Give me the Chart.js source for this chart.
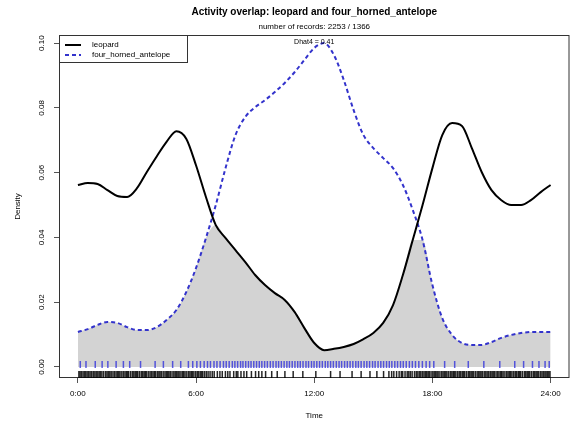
<!DOCTYPE html>
<html>
<head>
<meta charset="utf-8">
<script src="https://cdn.jsdelivr.net/npm/chart.js@4"></script>
<style>
  body { margin: 0; background: #fff; }
  canvas { display: block; }
</style>
</head>
<body>
<canvas id="overlapChart" width="575" height="428"></canvas>
<script>
// Time of day (hours) on a half-hour grid
const hours = [0, 0.5, 1, 1.5, 2, 2.5, 3, 3.5, 4, 4.5, 5, 5.5, 6, 6.5, 7, 7.5, 8, 8.5, 9, 9.5,
  10, 10.5, 11, 11.5, 12, 12.5, 13, 13.5, 14, 14.5, 15, 15.5, 16, 16.5, 17, 17.5, 18, 18.5, 19, 19.5,
  20, 20.5, 21, 21.5, 22, 22.5, 23, 23.5, 24];

// Kernel density estimates
const leopard = [0.0562, 0.0568, 0.0565, 0.0546, 0.0528, 0.0525, 0.0552, 0.0602, 0.0650, 0.0695,
  0.0728, 0.0705, 0.0622, 0.0525, 0.0438, 0.0398, 0.0361, 0.0324, 0.0284, 0.0253,
  0.0228, 0.0207, 0.0170, 0.0120, 0.0074, 0.0052, 0.0056, 0.0062, 0.0071, 0.0086,
  0.0105, 0.0136, 0.0191, 0.0284, 0.0392, 0.0500, 0.0614, 0.0716, 0.0753, 0.0744,
  0.0676, 0.0602, 0.0546, 0.0515, 0.0500, 0.0500, 0.0515, 0.0540, 0.0562];

const antelope = [0.0108, 0.0117, 0.0130, 0.0139, 0.0136, 0.0123, 0.0114, 0.0114, 0.0123, 0.0145,
  0.0176, 0.0231, 0.0306, 0.0398, 0.0500, 0.0615, 0.0716, 0.0772, 0.0802, 0.0824,
  0.0849, 0.0877, 0.0910, 0.0948, 0.0985, 0.1000, 0.0963, 0.0886, 0.0793, 0.0716,
  0.0676, 0.0645, 0.0614, 0.0562, 0.0485, 0.0392, 0.0253, 0.0151, 0.0099, 0.0074,
  0.0068, 0.0068, 0.0077, 0.0090, 0.0099, 0.0105, 0.0108, 0.0108, 0.0108];

// Record times (rug marks)
const leopardRecords = [0.05, 0.11, 0.18, 0.26, 0.33, 0.40, 0.47, 0.55, 0.62, 0.70, 0.78, 0.86, 0.93,
  1.01, 1.08, 1.15, 1.22, 1.31, 1.41, 1.48, 1.55, 1.62, 1.69, 1.78, 1.86, 1.94, 2.02, 2.08,
  2.14, 2.23, 2.31, 2.39, 2.46, 2.52, 2.58, 2.68, 2.77, 2.84, 2.91, 2.98, 3.04, 3.13, 3.22,
  3.29, 3.36, 3.42, 3.48, 3.57, 3.66, 3.73, 3.81, 3.88, 3.94, 4.03, 4.11, 4.17, 4.24, 4.33,
  4.42, 4.49, 4.56, 4.62, 4.69, 4.78, 4.87, 4.94, 5.01, 5.08, 5.14, 5.23, 5.31, 5.37, 5.44,
  5.53, 5.62, 5.69, 5.76, 5.82, 5.89, 5.98, 6.06, 6.13, 6.21, 6.28, 6.34, 6.43, 6.52, 6.61,
  6.71, 6.82, 6.92, 7.08, 7.21, 7.33, 7.49, 7.61, 7.72, 7.91, 8.04, 8.12, 8.28, 8.43, 8.57,
  8.81, 9.02, 9.18, 9.34, 9.53, 9.84, 10.12, 10.51, 10.93, 11.42, 12.08, 12.83, 13.31, 13.92,
  14.38, 14.83, 15.18, 15.52, 15.79, 15.93, 16.04, 16.18, 16.31, 16.42, 16.49, 16.61, 16.72,
  16.80, 16.88, 16.97, 17.09, 17.18, 17.26, 17.34, 17.41, 17.49, 17.57, 17.64, 17.71, 17.78,
  17.84, 17.93, 18.02, 18.09, 18.16, 18.23, 18.29, 18.38, 18.47, 18.54, 18.61, 18.68, 18.74,
  18.83, 18.92, 18.99, 19.06, 19.12, 19.19, 19.28, 19.36, 19.43, 19.51, 19.57, 19.64, 19.73,
  19.82, 19.89, 19.96, 20.02, 20.09, 20.18, 20.27, 20.34, 20.41, 20.47, 20.54, 20.63, 20.71,
  20.78, 20.86, 20.94, 21.02, 21.08, 21.14, 21.23, 21.31, 21.38, 21.46, 21.52, 21.59, 21.68,
  21.77, 21.84, 21.91, 21.97, 22.04, 22.13, 22.21, 22.28, 22.36, 22.42, 22.48, 22.57, 22.67,
  22.74, 22.81, 22.87, 22.94, 23.03, 23.12, 23.19, 23.26, 23.32, 23.39, 23.48, 23.56, 23.63,
  23.71, 23.77, 23.84, 23.91, 23.97];

const antelopeRecords = [0.12, 0.41, 0.88, 1.23, 1.52, 1.94, 2.31, 2.63, 3.18, 3.92, 4.34, 4.81, 5.22,
  5.61, 5.83, 6.04, 6.22, 6.41, 6.58, 6.73, 6.91, 7.06, 7.22, 7.39, 7.53, 7.68, 7.84, 7.97, 8.11,
  8.26, 8.38, 8.52, 8.66, 8.79, 8.93, 9.07, 9.21, 9.34, 9.48, 9.62, 9.77, 9.91, 10.06, 10.19,
  10.33, 10.47, 10.61, 10.74, 10.88, 11.02, 11.16, 11.29, 11.43, 11.58, 11.71, 11.86, 11.99,
  12.13, 12.27, 12.41, 12.56, 12.69, 12.83, 12.97, 13.12, 13.26, 13.39, 13.54, 13.68, 13.82,
  13.96, 14.11, 14.24, 14.38, 14.53, 14.67, 14.81, 14.96, 15.09, 15.24, 15.38, 15.52, 15.67,
  15.81, 15.94, 16.09, 16.23, 16.38, 16.52, 16.67, 16.83, 16.98, 17.14, 17.31, 17.49, 17.68,
  17.86, 18.07, 18.62, 19.13, 19.82, 20.61, 21.42, 22.18, 22.63, 23.08, 23.41, 23.72, 23.93];

const xTicks = [0, 6, 12, 18, 24];
const yTicks = [0, 0.02, 0.04, 0.06, 0.08, 0.10];
const speciesA = "leopard";
const speciesB = "four_horned_antelope";
const nRecords = [2253, 1366];
const dhatLabel = "Dhat4 = 0.41";

const FONT = "'Liberation Sans', Arial, sans-serif";
const BLUE = "#3333cc";

const toPoints = (ys) => hours.map((h, i) => ({ x: h, y: ys[i] }));
const overlapArea = hours.map((h, i) => ({ x: h, y: Math.min(leopard[i], antelope[i]) }));

// Box, titles, legend, rotated y labels - R base graphics look
const rStyle = {
  id: "rStyle",
  beforeDatasetsDraw(chart) {
    const a = chart.chartArea;
    const ctx = chart.ctx;
    ctx.save();
    ctx.strokeStyle = "#333";
    ctx.lineWidth = 1;
    ctx.strokeRect(a.left + 0.5, a.top + 0.5, a.right - a.left - 1, a.bottom - a.top - 1);
    ctx.restore();
  },
  afterDraw(chart) {
    const a = chart.chartArea;
    const ctx = chart.ctx;
    const cx = (a.left + a.right) / 2;
    ctx.save();
    ctx.fillStyle = "#000";
    ctx.textAlign = "center";
    ctx.textBaseline = "middle";
    ctx.font = "bold 10px " + FONT;
    ctx.fillText("Activity overlap: " + speciesA + " and " + speciesB, cx, 12);
    ctx.font = "8px " + FONT;
    ctx.fillText("number of records: " + nRecords[0] + " / " + nRecords[1], cx, 27);
    ctx.fillText("Time", cx, 416);
    ctx.font = "7px " + FONT;
    ctx.fillText(dhatLabel, chart.scales.x.getPixelForValue(12), 42);

    // y tick labels, reading upwards like R
    ctx.font = "8px " + FONT;
    yTicks.forEach(v => {
      ctx.save();
      ctx.translate(42, chart.scales.y.getPixelForValue(v));
      ctx.rotate(-Math.PI / 2);
      ctx.fillText(v.toFixed(2), 0, 0);
      ctx.restore();
    });
    ctx.save();
    ctx.translate(18, (a.top + a.bottom) / 2);
    ctx.rotate(-Math.PI / 2);
    ctx.fillText("Density", 0, 0);
    ctx.restore();

    // legend (topleft, boxed)
    const lx = a.left, ly = a.top, lw = 128, lh = 27;
    ctx.fillStyle = "#fff";
    ctx.fillRect(lx, ly, lw, lh);
    ctx.strokeStyle = "#333";
    ctx.lineWidth = 1;
    ctx.strokeRect(lx + 0.5, ly + 0.5, lw, lh);
    ctx.lineWidth = 2;
    ctx.strokeStyle = "#000";
    ctx.beginPath();
    ctx.moveTo(lx + 6, ly + 10);
    ctx.lineTo(lx + 22, ly + 10);
    ctx.stroke();
    ctx.strokeStyle = BLUE;
    ctx.setLineDash([4, 3]);
    ctx.beginPath();
    ctx.moveTo(lx + 6, ly + 20);
    ctx.lineTo(lx + 22, ly + 20);
    ctx.stroke();
    ctx.setLineDash([]);
    ctx.fillStyle = "#000";
    ctx.textAlign = "left";
    ctx.font = "8px " + FONT;
    ctx.fillText(speciesA, lx + 33, ly + 10);
    ctx.fillText(speciesB, lx + 33, ly + 20);
    ctx.restore();
  }
};

new Chart(document.getElementById("overlapChart"), {
  type: "line",
  data: {
    datasets: [
      {
        label: speciesA,
        data: toPoints(leopard),
        borderColor: "#000",
        borderWidth: 2,
        pointRadius: 0,
        cubicInterpolationMode: "monotone",
        fill: false
      },
      {
        label: speciesB,
        data: toPoints(antelope),
        borderColor: BLUE,
        borderWidth: 2,
        borderDash: [4, 3],
        pointRadius: 0,
        cubicInterpolationMode: "monotone",
        fill: false
      },
      {
        label: "leopard records",
        type: "scatter",
        data: leopardRecords.map(t => ({ x: t, y: -0.0023 })),
        pointStyle: "line",
        rotation: 90,
        pointRadius: 3.5,
        borderColor: "rgba(0,0,0,0.85)",
        borderWidth: 1.5
      },
      {
        label: "antelope records",
        type: "scatter",
        data: antelopeRecords.map(t => ({ x: t, y: 0.0008 })),
        pointStyle: "line",
        rotation: 90,
        pointRadius: 3.5,
        borderColor: "rgba(40,40,220,0.75)",
        borderWidth: 1.5
      },
      {
        label: "overlap",
        data: overlapArea,
        borderWidth: 0,
        borderColor: "rgba(0,0,0,0)",
        backgroundColor: "#d3d3d3",
        pointRadius: 0,
        cubicInterpolationMode: "monotone",
        fill: "origin"
      }
    ]
  },
  options: {
    responsive: false,
    animation: false,
    layout: { padding: { top: 35, right: 1, left: 0, bottom: 0 } },
    plugins: {
      legend: { display: false },
      title: { display: false },
      tooltip: { enabled: false }
    },
    scales: {
      x: {
        type: "linear",
        min: -0.96,
        max: 24.96,
        afterBuildTicks: (s) => { s.ticks = xTicks.map(v => ({ value: v })); },
        afterFit: (s) => { s.height = 50; },
        grid: { drawOnChartArea: false, drawTicks: true, tickLength: 5, color: "#555" },
        border: { display: false },
        ticks: {
          font: { family: FONT, size: 8 },
          color: "#000",
          padding: 6,
          maxRotation: 0,
          callback: (v) => v + ":00"
        }
      },
      y: {
        min: -0.0034,
        max: 0.1025,
        afterBuildTicks: (s) => { s.ticks = yTicks.map(v => ({ value: v })); },
        afterFit: (s) => { s.width = 59; },
        grid: { drawOnChartArea: false, drawTicks: true, tickLength: 5, color: "#555" },
        border: { display: false },
        ticks: { display: false }
      }
    }
  },
  plugins: [rStyle]
});
</script>
</body>
</html>
